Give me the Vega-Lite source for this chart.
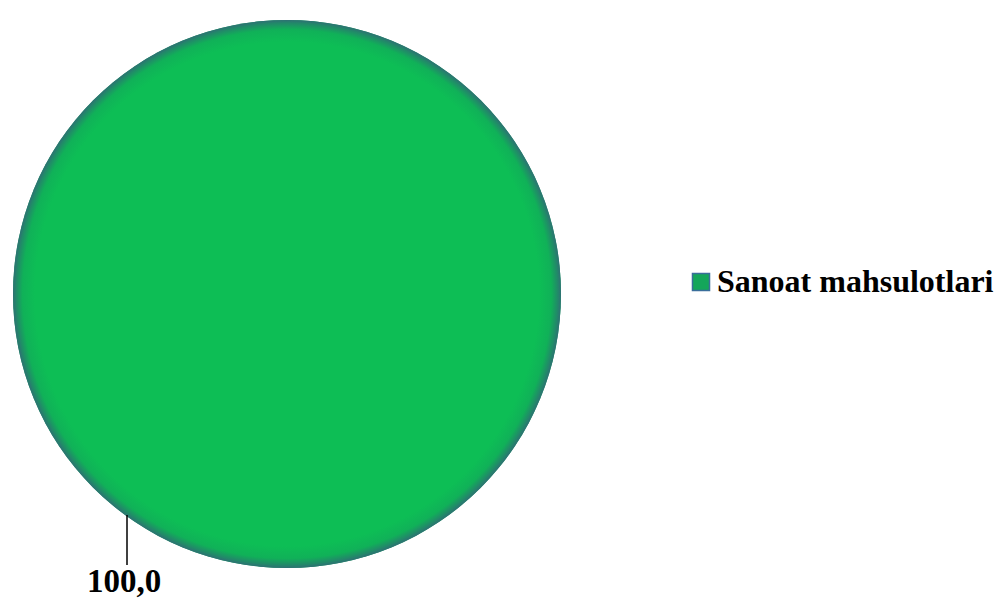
{
  "$schema": "https://vega.github.io/schema/vega-lite/v6.json",
  "width": 574,
  "height": 588,
  "padding": 0,
  "autosize": {"type": "pad"},
  "background": "white",
  "config": {
    "view": {"stroke": null},
    "font": "Liberation Serif",
    "legend": {
      "labelFont": "Liberation Serif, Times New Roman, serif",
      "labelFontWeight": "bold",
      "labelFontSize": 32,
      "labelColor": "black",
      "labelLimit": 500
    }
  },
  "data": {"values": [{"category": "Sanoat mahsulotlari", "value": 100.0, "label": "100,0"}]},
  "layer": [
    {
      "mark": {"type": "arc", "outerRadius": 274},
      "encoding": {
        "theta": {"field": "value", "type": "quantitative"},
        "color": {
          "field": "category",
          "type": "nominal",
          "scale": {"range": ["#14a65a"]},
          "legend": {
            "title": null,
            "orient": "none",
            "legendX": 685,
            "legendY": 266,
            "symbolType": "square",
            "symbolSize": 290,
            "symbolStrokeColor": "#3a6e9a",
            "symbolStrokeWidth": 1.5,
            "labelFont": "Liberation Serif, Times New Roman, serif",
            "labelFontWeight": "bold",
            "labelFontSize": 32,
            "labelColor": "black",
            "labelOffset": 0,
            "labelLimit": 500
          }
        }
      }
    },
    {
      "mark": {
        "type": "arc",
        "outerRadius": 274,
        "fill": {
          "gradient": "radial",
          "x1": 0.5, "y1": 0.5, "r1": 0,
          "x2": 0.5, "y2": 0.5, "r2": 0.5,
          "stops": [
            {"offset": 0, "color": "#0dbe55"},
            {"offset": 0.92, "color": "#0dbe55"},
            {"offset": 0.965, "color": "#10b158"},
            {"offset": 0.99, "color": "#23866a"},
            {"offset": 1, "color": "#2f6f74"}
          ]
        }
      },
      "encoding": {
        "theta": {"field": "value", "type": "quantitative"}
      }
    },
    {
      "mark": {"type": "rule", "color": "black", "strokeWidth": 1.5},
      "encoding": {
        "x": {"datum": 127, "type": "quantitative", "scale": {"domain": [0, 574], "nice": false, "zero": false}, "axis": null},
        "y": {"datum": 515, "type": "quantitative", "scale": {"domain": [0, 588], "nice": false, "zero": false, "reverse": true}, "axis": null},
        "y2": {"datum": 565}
      }
    },
    {
      "mark": {"type": "text", "font": "Liberation Serif", "fontWeight": "bold", "fontSize": 33, "color": "black", "baseline": "alphabetic", "align": "center"},
      "encoding": {
        "x": {"datum": 124, "type": "quantitative"},
        "y": {"datum": 592, "type": "quantitative"},
        "text": {"field": "label"}
      }
    }
  ]
}
